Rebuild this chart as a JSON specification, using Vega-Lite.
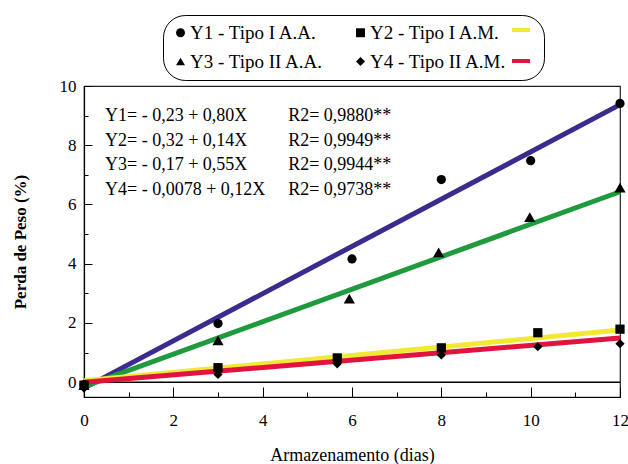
{
  "$schema": "https://vega.github.io/schema/vega-lite/v6.json",
  "width": 536,
  "height": 311,
  "autosize": "none",
  "padding": {"left": 84, "top": 86, "right": 8, "bottom": 67},
  "background": "white",
  "config": {
    "font": "Liberation Serif",
    "view": {"stroke": "#222", "strokeWidth": 1.2},
    "axis": {
      "grid": false,
      "domainColor": "#000",
      "domainWidth": 1.2,
      "tickColor": "#000",
      "labelColor": "#000",
      "titleColor": "#000",
      "labelFont": "Liberation Serif",
      "titleFont": "Liberation Serif",
      "labelFontSize": 17,
      "titleFontSize": 17
    },
    "legend": {
      "orient": "none"
    }
  },
  "datasets": {
    "points": [
      {"series": "Y1", "x": 0, "y": -0.08},
      {"series": "Y1", "x": 3, "y": 1.98},
      {"series": "Y1", "x": 6, "y": 4.16},
      {"series": "Y1", "x": 8, "y": 6.84},
      {"series": "Y1", "x": 10, "y": 7.48},
      {"series": "Y1", "x": 12, "y": 9.41},
      {"series": "Y2", "x": 0, "y": -0.1},
      {"series": "Y2", "x": 3, "y": 0.49},
      {"series": "Y2", "x": 5.67, "y": 0.82},
      {"series": "Y2", "x": 8, "y": 1.16},
      {"series": "Y2", "x": 10.16, "y": 1.67},
      {"series": "Y2", "x": 12, "y": 1.79},
      {"series": "Y3", "x": 0, "y": -0.1},
      {"series": "Y3", "x": 3, "y": 1.41},
      {"series": "Y3", "x": 5.94, "y": 2.82},
      {"series": "Y3", "x": 7.94, "y": 4.38},
      {"series": "Y3", "x": 9.98, "y": 5.57},
      {"series": "Y3", "x": 12, "y": 6.57},
      {"series": "Y4", "x": 0, "y": -0.2},
      {"series": "Y4", "x": 3, "y": 0.26},
      {"series": "Y4", "x": 5.67, "y": 0.62},
      {"series": "Y4", "x": 8, "y": 0.92},
      {"series": "Y4", "x": 10.16, "y": 1.2},
      {"series": "Y4", "x": 12, "y": 1.3}
    ],
    "lines": [
      {"line": "L1", "x": 0, "y": -0.2},
      {"line": "L1", "x": 12, "y": 9.37},
      {"line": "L3", "x": 0, "y": -0.15},
      {"line": "L3", "x": 12, "y": 6.43},
      {"line": "L2", "x": 0, "y": 0.05},
      {"line": "L2", "x": 12, "y": 1.76},
      {"line": "L4", "x": 0, "y": 0.0},
      {"line": "L4", "x": 12, "y": 1.49}
    ],
    "zero": [
      {"x": 0, "y": 0},
      {"x": 12, "y": 0}
    ],
    "notes": [
      {"x": 0.47, "y": 8.98, "t": "Y1= - 0,23 + 0,80X"},
      {"x": 0.47, "y": 8.15, "t": "Y2= - 0,32 + 0,14X"},
      {"x": 0.47, "y": 7.32, "t": "Y3= - 0,17 + 0,55X"},
      {"x": 0.47, "y": 6.49, "t": "Y4= - 0,0078 + 0,12X"},
      {"x": 4.57, "y": 8.98, "t": "R2= 0,9880**"},
      {"x": 4.57, "y": 8.15, "t": "R2= 0,9949**"},
      {"x": 4.57, "y": 7.32, "t": "R2= 0,9944**"},
      {"x": 4.57, "y": 6.49, "t": "R2= 0,9738**"}
    ]
  },
  "encoding": {
    "x": {
      "field": "x",
      "type": "quantitative",
      "scale": {"domain": [0, 12], "nice": false, "zero": false},
      "axis": {
        "title": "Armazenamento (dias)",
        "titleFont": "Liberation Serif",
        "labelFont": "Liberation Serif",
        "titleFontSize": 18,
        "titleFontWeight": "normal",
        "format": "d",
        "values": [0, 0.5, 1, 1.5, 2, 2.5, 3, 3.5, 4, 4.5, 5, 5.5, 6, 6.5, 7, 7.5, 8, 8.5, 9, 9.5, 10, 10.5, 11, 11.5, 12],
        "labelExpr": "datum.value % 2 === 0 ? datum.label : ''",
        "tickSize": {"condition": {"test": "datum.value % 2 === 0", "value": -10}, "value": -5},
        "labelPadding": 25,
        "titlePadding": 18,
        "labelFlush": false
      }
    },
    "y": {
      "field": "y",
      "type": "quantitative",
      "scale": {"domain": [-0.5, 10], "nice": false, "zero": false},
      "axis": {
        "title": "Perda de Peso (%)",
        "titleFont": "Liberation Serif",
        "labelFont": "Liberation Serif",
        "titleFontWeight": "bold",
        "format": "d",
        "values": [0, 0.5, 1, 1.5, 2, 2.5, 3, 3.5, 4, 4.5, 5, 5.5, 6, 6.5, 7, 7.5, 8, 8.5, 9, 9.5, 10],
        "labelExpr": "datum.value % 2 === 0 ? datum.label : ''",
        "tickSize": {"condition": {"test": "datum.value % 2 === 0", "value": -8}, "value": -4},
        "labelPadding": 16,
        "titlePadding": 30,
        "labelFlush": false
      }
    }
  },
  "layer": [
    {
      "data": {"name": "zero"},
      "mark": {"type": "line", "color": "#000", "strokeWidth": 1.5},
      "encoding": {}
    },
    {
      "data": {"name": "lines"},
      "mark": {"type": "line", "strokeWidth": 5},
      "encoding": {
        "color": {
          "field": "line",
          "type": "nominal",
          "scale": {"domain": ["L1", "L2", "L3", "L4"], "range": ["#3b2b8e", "#f2e935", "#1f9a3c", "#e0143e"]},
          "legend": {
            "values": ["L2", "L4"],
            "orient": "none",
            "legendX": 426,
            "legendY": -67,
            "title": null,
            "symbolType": "stroke",
            "symbolSize": 324,
            "symbolStrokeWidth": 4,
            "labelExpr": "''",
            "labelFontSize": 18,
            "rowPadding": 11,
            "padding": 0
          }
        }
      }
    },
    {
      "data": {"name": "points"},
      "transform": [{"filter": "datum.series !== 'Y3'"}],
      "mark": {"type": "point", "filled": true, "color": "#000", "opacity": 1, "size": 85},
      "encoding": {
        "shape": {
          "field": "series",
          "type": "nominal",
          "scale": {"domain": ["Y1", "Y3", "Y2", "Y4"], "range": ["circle", "triangle-up", "square", "diamond"]},
          "legend": {
            "orient": "none",
            "legendX": 79,
            "legendY": -71,
            "title": "XX",
            "titleOrient": "right",
            "titleOpacity": 0,
            "titleFontSize": 14,
            "titlePadding": 8,
            "columns": 2,
            "columnPadding": 27,
            "rowPadding": 9,
            "padding": 8,
            "strokeColor": "#000",
            "cornerRadius": 22,
            "symbolFillColor": "#000",
            "symbolStrokeColor": "#000",
            "symbolSize": 80,
            "labelFontSize": 19,
            "labelFont": "Liberation Serif",
            "labelColor": "#000",
            "labelLimit": 400,
            "labelOffset": 0,
            "labelExpr": "datum.value === 'Y1' ? 'Y1 - Tipo I A.A.' : datum.value === 'Y2' ? 'Y2 - Tipo I A.M.' : datum.value === 'Y3' ? 'Y3 - Tipo II A.A.' : 'Y4 - Tipo II A.M.'"
          }
        }
      }
    },
    {
      "data": {"name": "points"},
      "transform": [{"filter": "datum.series === 'Y3'"}],
      "mark": {"type": "point", "filled": true, "color": "#000", "opacity": 1, "size": 125},
      "encoding": {
        "shape": {
          "field": "series",
          "type": "nominal",
          "scale": {"domain": ["Y1", "Y3", "Y2", "Y4"], "range": ["circle", "triangle-up", "square", "diamond"]},
          "legend": {
            "orient": "none",
            "legendX": 79,
            "legendY": -71,
            "title": "XX",
            "titleOrient": "right",
            "titleOpacity": 0,
            "titleFontSize": 14,
            "titlePadding": 8,
            "columns": 2,
            "columnPadding": 27,
            "rowPadding": 9,
            "padding": 8,
            "strokeColor": "#000",
            "cornerRadius": 22,
            "symbolFillColor": "#000",
            "symbolStrokeColor": "#000",
            "symbolSize": 80,
            "labelFontSize": 19,
            "labelFont": "Liberation Serif",
            "labelColor": "#000",
            "labelLimit": 400,
            "labelOffset": 0,
            "labelExpr": "datum.value === 'Y1' ? 'Y1 - Tipo I A.A.' : datum.value === 'Y2' ? 'Y2 - Tipo I A.M.' : datum.value === 'Y3' ? 'Y3 - Tipo II A.A.' : 'Y4 - Tipo II A.M.'"
          }
        }
      }
    },
    {
      "data": {"name": "notes"},
      "mark": {"type": "text", "align": "left", "baseline": "middle", "fontSize": 18, "font": "Liberation Serif", "color": "#000"},
      "encoding": {"text": {"field": "t", "type": "nominal"}}
    }
  ]
}
